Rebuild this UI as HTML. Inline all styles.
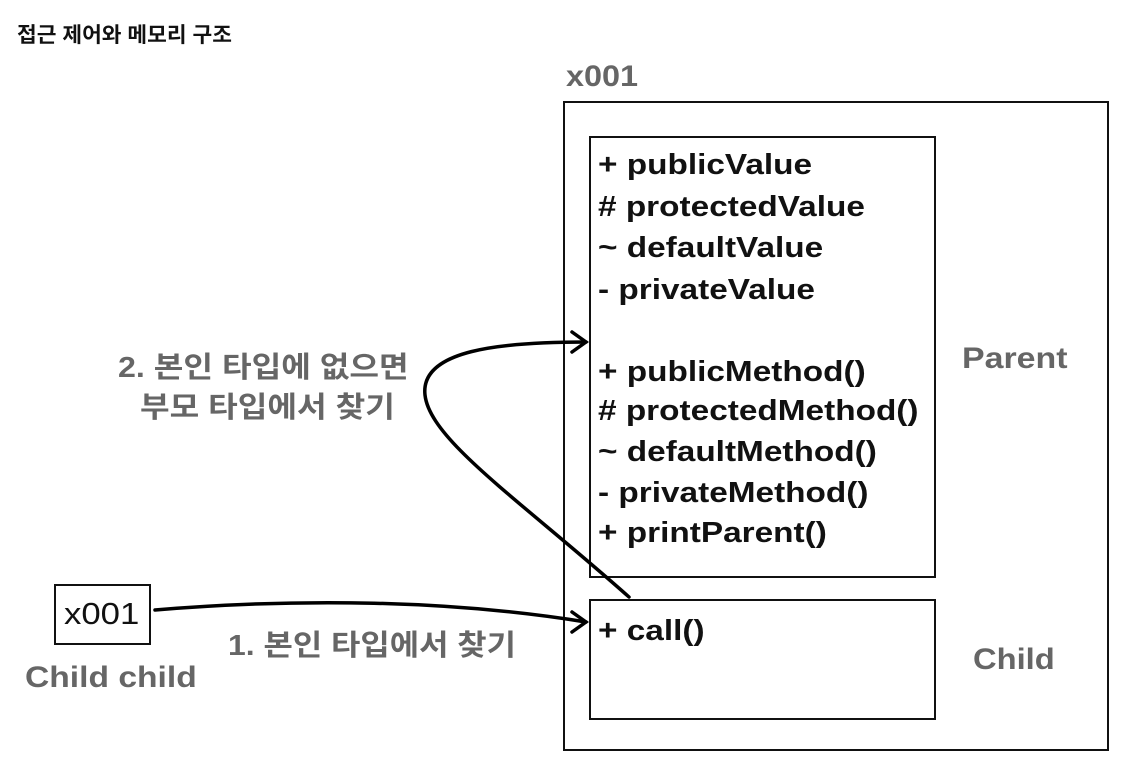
<!DOCTYPE html>
<html><head><meta charset="utf-8"><style>
body{margin:0;width:1128px;height:774px;background:#fff;position:relative;overflow:hidden;font-family:"Liberation Sans","Noto Sans CJK KR",sans-serif}
.t{position:absolute;white-space:nowrap;font-weight:bold;transform-origin:0 0}
.g{color:#666}
.box{position:absolute;border:2.5px solid #111;box-sizing:border-box}
.m{position:absolute;left:598px;font-size:29px;font-weight:bold;color:#111;line-height:1;white-space:nowrap;transform:scaleX(1.15);transform-origin:0 0}
</style></head><body>
<div class="t" style="left:17px;top:19px;font-size:21px;color:#111;transform:scaleX(1.02)">접근 제어와 메모리 구조</div>
<div class="t g" style="left:566px;top:60px;font-size:30px;transform:scaleX(1.08)">x001</div>
<div class="box" style="left:563px;top:101px;width:546px;height:650px"></div>
<div class="box" style="left:589px;top:136px;width:347px;height:442px"></div>
<div class="box" style="left:589px;top:599px;width:347px;height:121px"></div>
<div class="m" style="top:151px">+ publicValue</div>
<div class="m" style="top:193px"># protectedValue</div>
<div class="m" style="top:234px">~ defaultValue</div>
<div class="m" style="top:276px">- privateValue</div>
<div class="m" style="top:358px">+ publicMethod()</div>
<div class="m" style="top:397px"># protectedMethod()</div>
<div class="m" style="top:438px">~ defaultMethod()</div>
<div class="m" style="top:479px">- privateMethod()</div>
<div class="m" style="top:519px">+ printParent()</div>
<div class="m" style="top:617px">+ call()</div>
<div class="t g" style="left:962px;top:342px;font-size:30px;transform:scaleX(1.13)">Parent</div>
<div class="t g" style="left:973px;top:643px;font-size:30px;transform:scaleX(1.09)">Child</div>
<div class="box" style="left:54px;top:584px;width:97px;height:61px"></div>
<div class="t" style="left:64px;top:596px;font-size:31px;font-weight:normal;color:#111;transform:scaleX(1.12)">x001</div>
<div class="t g" style="left:25px;top:661px;font-size:30px;transform:scaleX(1.12)">Child child</div>
<div class="t g" style="left:228px;top:622px;font-size:29px;transform:scaleX(1.1)">1. 본인 타입에서 찾기</div>
<div class="t g" style="left:118px;top:344px;font-size:29px;transform:scaleX(1.11)">2. 본인 타입에 없으면</div>
<div class="t g" style="left:140px;top:384px;font-size:29px;transform:scaleX(1.11)">부모 타입에서 찾기</div>
<svg width="1128" height="774" style="position:absolute;left:0;top:0">
<g fill="none" stroke="#000" stroke-width="3.5" stroke-linecap="round">
<path d="M155 610 C300 598 450 600 586 622"/>
<path d="M572 612 L586 622 L572 632"/>
<path d="M629 597 C520 500 430 440 425 395 C420 350 500 342 586 342"/>
<path d="M572 332 L586 342 L572 352"/>
</g></svg>
</body></html>
